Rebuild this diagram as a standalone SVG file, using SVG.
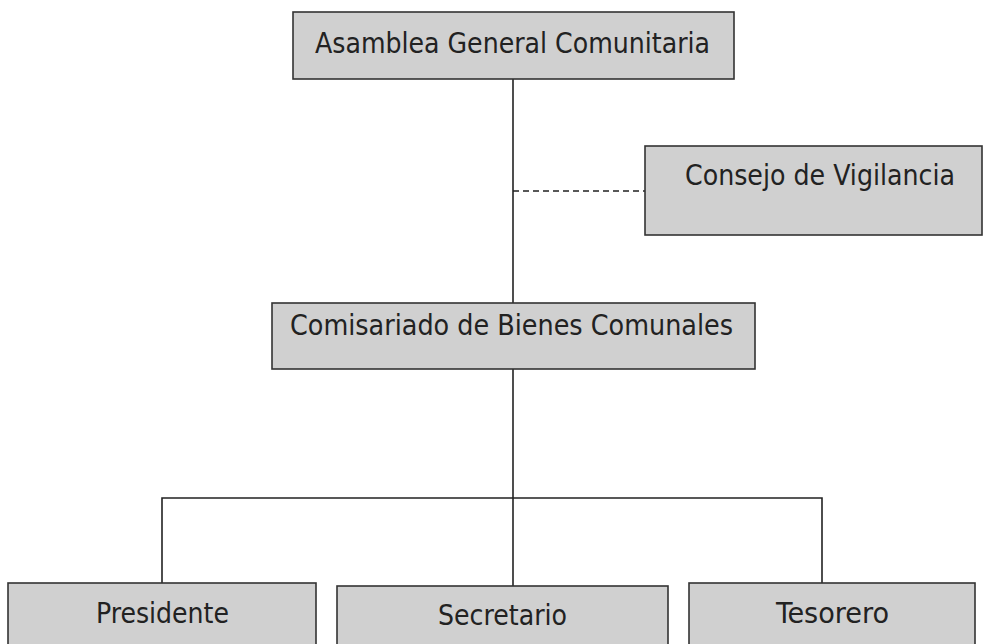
<svg xmlns="http://www.w3.org/2000/svg" width="987" height="644" viewBox="0 0 987 644">
<style>
.box{fill:#d0d0d0;stroke:#333;stroke-width:1.6}
.t{font-family:"DejaVu Sans Condensed","DejaVu Sans",sans-serif;font-stretch:condensed;font-size:29px;fill:#222;text-anchor:middle}
.c{stroke:#222;stroke-width:1.6;fill:none}
.d{stroke:#222;stroke-width:1.6;fill:none;stroke-dasharray:6 4}
</style>
<rect width="987" height="644" fill="#fff"/>
<g id="connectors">
<line class="c" x1="513" y1="79" x2="513" y2="303"/>
<line class="d" x1="513" y1="191" x2="645" y2="191"/>
<line class="c" x1="513" y1="369" x2="513" y2="586"/>
<polyline class="c" points="162,583 162,498 822,498 822,583"/>
</g>
<g id="asamblea"><rect class="box" x="293" y="12" width="441" height="67"/><text class="t" x="512.5" y="53" textLength="395" lengthAdjust="spacingAndGlyphs">Asamblea General Comunitaria</text></g>
<g id="consejo"><rect class="box" x="645" y="146" width="337" height="89"/><text class="t" x="820" y="185" textLength="270" lengthAdjust="spacingAndGlyphs">Consejo de Vigilancia</text></g>
<g id="comisariado"><rect class="box" x="272" y="303" width="483" height="66"/><text class="t" x="511.5" y="335" textLength="443" lengthAdjust="spacingAndGlyphs">Comisariado de Bienes Comunales</text></g>
<g id="presidente"><rect class="box" x="8" y="583" width="308" height="70"/><text class="t" x="162.5" y="623" textLength="133" lengthAdjust="spacingAndGlyphs">Presidente</text></g>
<g id="secretario"><rect class="box" x="337" y="586" width="331" height="70"/><text class="t" x="502.5" y="625" textLength="129" lengthAdjust="spacingAndGlyphs">Secretario</text></g>
<g id="tesorero"><rect class="box" x="689" y="583" width="286" height="70"/><text class="t" x="832.5" y="623" textLength="113" lengthAdjust="spacingAndGlyphs">Tesorero</text></g>
</svg>
